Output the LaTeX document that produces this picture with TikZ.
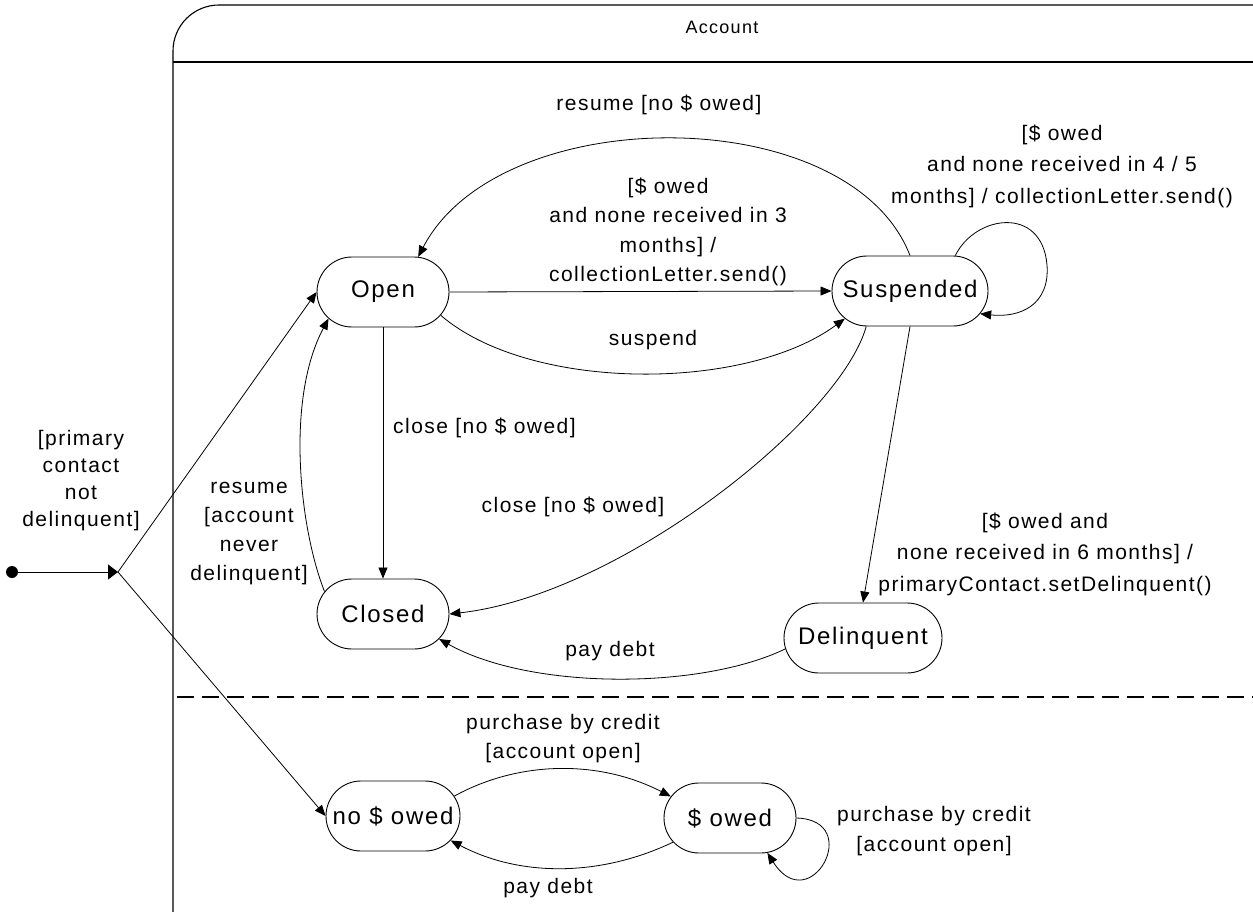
\documentclass[tikz,border=0pt]{standalone}
\usepackage{fontspec}
\setmainfont{Liberation Sans}[LetterSpace=7]
\usetikzlibrary{arrows.meta,shapes.misc}

\begin{document}
\begin{tikzpicture}[x=1pt,y=-1pt,
  state/.style={rounded rectangle, draw, line width=0.9pt, minimum height=70pt,
    inner xsep=6pt, font=\fontsize{24}{28}\selectfont},
  lbl/.style={align=center, inner sep=0pt, font=\fontsize{21}{30}\selectfont},
  trans/.style={line width=0.8pt, -{Triangle[length=11pt,width=9pt]}},
  region/.style={line width=1.1pt}]

\useasboundingbox (0,0) rectangle (1253,912);
\clip (0,0) rectangle (1253,912);

% composite state frame
\draw[region, rounded corners=46pt] (173,5) rectangle (1320,960);
\draw[region] (173,62) -- (1253,62);
\node[font=\fontsize{18}{22}\selectfont, inner sep=0pt] (title) at (722,27) {Account};
\draw[line width=1.8pt, dash pattern=on 17pt off 8pt] (177,697) -- (1253,697);

% states of the upper region
\node[state, minimum width=144pt] (open) at (383,292) {Open};
\node[state, minimum width=168pt] (susp) at (910,291) {Suspended};
\node[state, minimum width=144pt] (closed) at (383,614) {Closed};
\node[state, minimum width=170pt] (delin) at (863,638) {Delinquent};

% states of the lower region
\node[state, minimum width=146pt] (noowed) at (393,816) {no \$ owed};
\node[state, minimum width=144pt] (owed) at (730,818) {\$ owed};

% initial pseudostate and fork
\node[circle, fill, inner sep=0pt, minimum size=12pt] (init) at (12,572) {};
\coordinate (fork) at (118,572);
\draw[line width=0.8pt, -{Triangle[length=10pt,width=15pt]}] (init) -- (fork);
\draw[trans] (fork) -- (open.west);
\draw[trans] (fork) -- (noowed.west);
\node[lbl, font=\fontsize{21}{27}\selectfont] (forklbl) at (81,481)
  {[primary\\contact\\not\\delinquent]};

% upper region transitions
\draw[trans] (open.east) -- (susp.west);
\node[lbl, font=\fontsize{21}{29.5}\selectfont] (l1) at (668,232)
  {[\$ owed\\and none received in 3\\months] /\\collectionLetter.send()};

\draw[trans] (open.-22) .. controls (530,392) and (745,392) .. (susp.203);
\node[lbl] (l2) at (653,340) {suspend};

\draw[trans] (susp.north) .. controls (850,100) and (500,100) .. (open.45);
\node[lbl] (l3) at (659,105) {resume [no \$ owed]};

\draw[trans] (susp.38) .. controls (975,215) and (1042,205) .. (1047,265)
  .. controls (1050,305) and (1020,318) .. (susp.-18);
\node[lbl, font=\fontsize{21}{31.5}\selectfont] (l4) at (1062,166)
  {[\$ owed\\and none received in 4 / 5\\months] / collectionLetter.send()};

\draw[trans] (open.south) -- (closed.north);
\node[lbl, anchor=west] (l5) at (393,428) {close [no \$ owed]};

\draw[trans] (closed.159) .. controls (300,530) and (285,400) .. (open.206);
\node[lbl, font=\fontsize{21}{29}\selectfont] (l6) at (249,534)
  {resume\\{}[account\\never\\delinquent]};

\draw[trans] (susp.219) .. controls (840,420) and (620,595) .. (closed.east);
\node[lbl] (l7) at (573,507) {close [no \$ owed]};

\draw[trans] (susp.south) -- (delin.north);
\node[lbl, font=\fontsize{21}{31.5}\selectfont] (l8) at (1045,554)
  {[\$ owed and\\none received in 6 months] /\\primaryContact.setDelinquent()};

\draw[trans] (delin.188) .. controls (700,690) and (530,690) .. (closed.-24);
\node[lbl] (l9) at (610,651) {pay debt};

% lower region transitions
\draw[trans] (noowed.18) .. controls (520,760) and (600,760) .. (owed.160);
\node[lbl, font=\fontsize{21}{29}\selectfont] (l10) at (563,739)
  {purchase by credit\\{}[account open]};

\draw[trans] (owed.203) .. controls (600,877) and (520,877) .. (noowed.-23);
\node[lbl] (l11) at (548,888) {pay debt};

\draw[trans] (owed.east) .. controls (865,820) and (810,920) .. (owed.-43);
\node[lbl] (l12) at (934,831) {purchase by credit\\{}[account open]};

\end{tikzpicture}
\end{document}
